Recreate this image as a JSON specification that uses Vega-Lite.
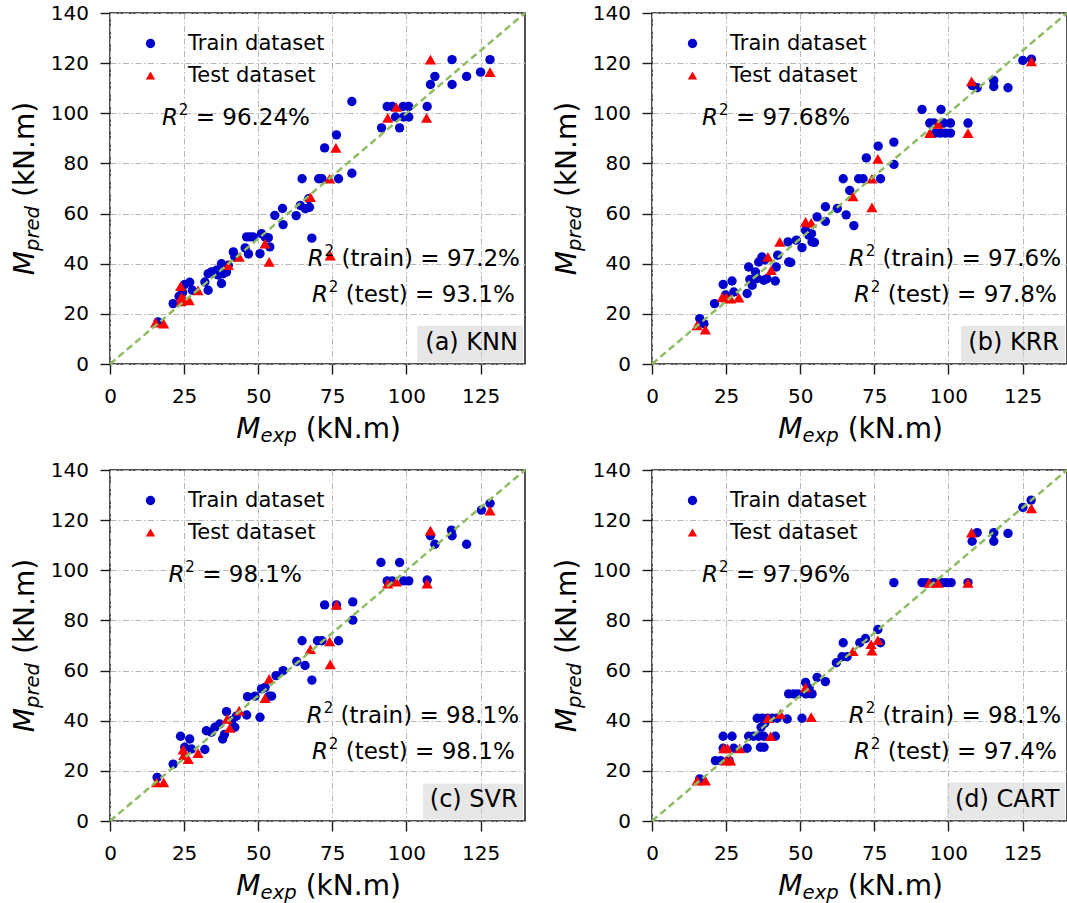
{
"$schema": "https://vega.github.io/schema/vega-lite/v6.json",
"padding": {"left": 11, "top": 2, "right": 0, "bottom": 0},
"config": {
  "font": "DejaVu Sans",
  "view": {"stroke": "#1a1a1a", "strokeWidth": 1.5},
  "axis": {"domain": false, "labelFont": "DejaVu Sans", "labelFontSize": 20, "labelColor": "#000000", "tickColor": "#1a1a1a", "tickWidth": 1.4, "gridColor": "#b8b8b8", "gridDash": [6, 2.5, 1.5, 2.5], "gridWidth": 1, "labelOverlap": false, "labelFlush": false},
  "legend": {"orient": "top-left", "offset": 10, "padding": 10, "labelFont": "DejaVu Sans", "labelFontSize": 21, "labelColor": "#000000", "symbolSize": 88, "symbolOffset": 10, "labelOffset": 27, "rowPadding": 10, "symbolStrokeWidth": 0},
  "text": {"font": "DejaVu Sans", "color": "#000000"}
},
"datasets": {
"knn": [
{"M_exp":16.2,"M_pred":16.8,"set":"Train dataset"},{"M_exp":21.3,"M_pred":24.1,"set":"Train dataset"},{"M_exp":23.3,"M_pred":27.0,"set":"Train dataset"},{"M_exp":25.2,"M_pred":31.7,"set":"Train dataset"},{"M_exp":26.9,"M_pred":32.6,"set":"Train dataset"},{"M_exp":24.5,"M_pred":28.5,"set":"Train dataset"},{"M_exp":27.8,"M_pred":29.4,"set":"Train dataset"},{"M_exp":32.0,"M_pred":32.7,"set":"Train dataset"},{"M_exp":33.1,"M_pred":36.0,"set":"Train dataset"},{"M_exp":33.1,"M_pred":29.4,"set":"Train dataset"},{"M_exp":34.2,"M_pred":36.7,"set":"Train dataset"},{"M_exp":35.9,"M_pred":37.4,"set":"Train dataset"},{"M_exp":36.5,"M_pred":35.5,"set":"Train dataset"},{"M_exp":37.6,"M_pred":40.0,"set":"Train dataset"},{"M_exp":38.2,"M_pred":36.0,"set":"Train dataset"},{"M_exp":37.6,"M_pred":32.1,"set":"Train dataset"},{"M_exp":39.3,"M_pred":36.7,"set":"Train dataset"},{"M_exp":39.9,"M_pred":39.4,"set":"Train dataset"},{"M_exp":41.6,"M_pred":44.7,"set":"Train dataset"},{"M_exp":42.1,"M_pred":42.7,"set":"Train dataset"},{"M_exp":45.6,"M_pred":46.3,"set":"Train dataset"},{"M_exp":46.7,"M_pred":43.9,"set":"Train dataset"},{"M_exp":46.1,"M_pred":50.7,"set":"Train dataset"},{"M_exp":47.2,"M_pred":50.7,"set":"Train dataset"},{"M_exp":48.3,"M_pred":50.7,"set":"Train dataset"},{"M_exp":50.6,"M_pred":44.0,"set":"Train dataset"},{"M_exp":51.1,"M_pred":52.0,"set":"Train dataset"},{"M_exp":52.3,"M_pred":50.7,"set":"Train dataset"},{"M_exp":53.4,"M_pred":50.4,"set":"Train dataset"},{"M_exp":53.9,"M_pred":46.7,"set":"Train dataset"},{"M_exp":55.6,"M_pred":59.3,"set":"Train dataset"},{"M_exp":58.2,"M_pred":62.0,"set":"Train dataset"},{"M_exp":58.4,"M_pred":55.6,"set":"Train dataset"},{"M_exp":62.8,"M_pred":59.2,"set":"Train dataset"},{"M_exp":64.2,"M_pred":63.2,"set":"Train dataset"},{"M_exp":65.9,"M_pred":61.9,"set":"Train dataset"},{"M_exp":67.3,"M_pred":62.5,"set":"Train dataset"},{"M_exp":68.1,"M_pred":50.2,"set":"Train dataset"},{"M_exp":67.0,"M_pred":65.9,"set":"Train dataset"},{"M_exp":64.8,"M_pred":73.9,"set":"Train dataset"},{"M_exp":70.4,"M_pred":73.9,"set":"Train dataset"},{"M_exp":71.5,"M_pred":73.9,"set":"Train dataset"},{"M_exp":77.1,"M_pred":73.9,"set":"Train dataset"},{"M_exp":81.6,"M_pred":76.1,"set":"Train dataset"},{"M_exp":72.4,"M_pred":86.2,"set":"Train dataset"},{"M_exp":76.4,"M_pred":91.4,"set":"Train dataset"},{"M_exp":81.6,"M_pred":104.7,"set":"Train dataset"},{"M_exp":91.6,"M_pred":94.2,"set":"Train dataset"},{"M_exp":93.5,"M_pred":102.7,"set":"Train dataset"},{"M_exp":95.2,"M_pred":102.7,"set":"Train dataset"},{"M_exp":96.3,"M_pred":98.5,"set":"Train dataset"},{"M_exp":97.7,"M_pred":94.2,"set":"Train dataset"},{"M_exp":98.9,"M_pred":102.7,"set":"Train dataset"},{"M_exp":100.8,"M_pred":102.7,"set":"Train dataset"},{"M_exp":99.1,"M_pred":98.5,"set":"Train dataset"},{"M_exp":100.8,"M_pred":98.5,"set":"Train dataset"},{"M_exp":107.0,"M_pred":102.7,"set":"Train dataset"},{"M_exp":108.1,"M_pred":111.5,"set":"Train dataset"},{"M_exp":109.6,"M_pred":114.7,"set":"Train dataset"},{"M_exp":115.4,"M_pred":121.4,"set":"Train dataset"},{"M_exp":115.4,"M_pred":111.5,"set":"Train dataset"},{"M_exp":120.3,"M_pred":114.7,"set":"Train dataset"},{"M_exp":125.0,"M_pred":116.4,"set":"Train dataset"},{"M_exp":128.2,"M_pred":121.4,"set":"Train dataset"},
{"M_exp":15.4,"M_pred":16.5,"set":"Test dataset"},{"M_exp":18.1,"M_pred":16.1,"set":"Test dataset"},{"M_exp":23.8,"M_pred":31.0,"set":"Test dataset"},{"M_exp":24.1,"M_pred":26.7,"set":"Test dataset"},{"M_exp":25.0,"M_pred":26.0,"set":"Test dataset"},{"M_exp":26.7,"M_pred":25.4,"set":"Test dataset"},{"M_exp":24.0,"M_pred":25.0,"set":"Test dataset"},{"M_exp":29.7,"M_pred":29.4,"set":"Test dataset"},{"M_exp":39.9,"M_pred":39.4,"set":"Test dataset"},{"M_exp":43.6,"M_pred":42.7,"set":"Test dataset"},{"M_exp":52.3,"M_pred":48.0,"set":"Test dataset"},{"M_exp":53.7,"M_pred":40.7,"set":"Test dataset"},{"M_exp":67.6,"M_pred":66.5,"set":"Test dataset"},{"M_exp":74.1,"M_pred":73.9,"set":"Test dataset"},{"M_exp":76.2,"M_pred":86.2,"set":"Test dataset"},{"M_exp":74.3,"M_pred":43.2,"set":"Test dataset"},{"M_exp":93.7,"M_pred":98.2,"set":"Test dataset"},{"M_exp":96.6,"M_pred":102.5,"set":"Test dataset"},{"M_exp":106.8,"M_pred":98.2,"set":"Test dataset"},{"M_exp":108.1,"M_pred":121.4,"set":"Test dataset"},{"M_exp":128.2,"M_pred":116.4,"set":"Test dataset"}
],
"krr": [
{"M_exp":16.1,"M_pred":18.1,"set":"Train dataset"},{"M_exp":17.5,"M_pred":16.1,"set":"Train dataset"},{"M_exp":21.1,"M_pred":24.1,"set":"Train dataset"},{"M_exp":24.0,"M_pred":31.7,"set":"Train dataset"},{"M_exp":27.0,"M_pred":33.1,"set":"Train dataset"},{"M_exp":24.8,"M_pred":27.5,"set":"Train dataset"},{"M_exp":27.6,"M_pred":28.7,"set":"Train dataset"},{"M_exp":32.1,"M_pred":28.1,"set":"Train dataset"},{"M_exp":33.8,"M_pred":31.4,"set":"Train dataset"},{"M_exp":33.0,"M_pred":33.7,"set":"Train dataset"},{"M_exp":32.6,"M_pred":38.7,"set":"Train dataset"},{"M_exp":34.9,"M_pred":36.7,"set":"Train dataset"},{"M_exp":36.0,"M_pred":40.7,"set":"Train dataset"},{"M_exp":37.1,"M_pred":42.7,"set":"Train dataset"},{"M_exp":38.0,"M_pred":41.5,"set":"Train dataset"},{"M_exp":35.5,"M_pred":34.1,"set":"Train dataset"},{"M_exp":37.7,"M_pred":33.4,"set":"Train dataset"},{"M_exp":38.8,"M_pred":34.0,"set":"Train dataset"},{"M_exp":41.6,"M_pred":33.1,"set":"Train dataset"},{"M_exp":41.9,"M_pred":38.7,"set":"Train dataset"},{"M_exp":42.4,"M_pred":43.4,"set":"Train dataset"},{"M_exp":46.1,"M_pred":40.7,"set":"Train dataset"},{"M_exp":46.8,"M_pred":40.5,"set":"Train dataset"},{"M_exp":45.9,"M_pred":48.7,"set":"Train dataset"},{"M_exp":48.7,"M_pred":49.4,"set":"Train dataset"},{"M_exp":50.6,"M_pred":46.4,"set":"Train dataset"},{"M_exp":51.8,"M_pred":53.3,"set":"Train dataset"},{"M_exp":52.9,"M_pred":51.4,"set":"Train dataset"},{"M_exp":53.8,"M_pred":52.0,"set":"Train dataset"},{"M_exp":54.0,"M_pred":48.7,"set":"Train dataset"},{"M_exp":54.8,"M_pred":48.5,"set":"Train dataset"},{"M_exp":55.7,"M_pred":58.7,"set":"Train dataset"},{"M_exp":58.5,"M_pred":56.9,"set":"Train dataset"},{"M_exp":58.5,"M_pred":62.7,"set":"Train dataset"},{"M_exp":62.5,"M_pred":62.0,"set":"Train dataset"},{"M_exp":65.5,"M_pred":59.5,"set":"Train dataset"},{"M_exp":68.1,"M_pred":55.2,"set":"Train dataset"},{"M_exp":66.7,"M_pred":69.2,"set":"Train dataset"},{"M_exp":64.5,"M_pred":73.9,"set":"Train dataset"},{"M_exp":69.7,"M_pred":73.9,"set":"Train dataset"},{"M_exp":71.2,"M_pred":73.9,"set":"Train dataset"},{"M_exp":77.1,"M_pred":73.9,"set":"Train dataset"},{"M_exp":72.3,"M_pred":82.2,"set":"Train dataset"},{"M_exp":76.3,"M_pred":86.9,"set":"Train dataset"},{"M_exp":81.6,"M_pred":88.5,"set":"Train dataset"},{"M_exp":81.6,"M_pred":79.6,"set":"Train dataset"},{"M_exp":91.1,"M_pred":101.5,"set":"Train dataset"},{"M_exp":97.5,"M_pred":101.5,"set":"Train dataset"},{"M_exp":93.7,"M_pred":96.1,"set":"Train dataset"},{"M_exp":95.1,"M_pred":96.1,"set":"Train dataset"},{"M_exp":98.4,"M_pred":96.1,"set":"Train dataset"},{"M_exp":100.7,"M_pred":96.1,"set":"Train dataset"},{"M_exp":95.6,"M_pred":92.1,"set":"Train dataset"},{"M_exp":97.3,"M_pred":92.1,"set":"Train dataset"},{"M_exp":99.0,"M_pred":92.1,"set":"Train dataset"},{"M_exp":100.7,"M_pred":92.1,"set":"Train dataset"},{"M_exp":106.6,"M_pred":96.1,"set":"Train dataset"},{"M_exp":108.0,"M_pred":111.1,"set":"Train dataset"},{"M_exp":109.7,"M_pred":110.2,"set":"Train dataset"},{"M_exp":115.3,"M_pred":113.1,"set":"Train dataset"},{"M_exp":115.3,"M_pred":110.7,"set":"Train dataset"},{"M_exp":120.1,"M_pred":110.2,"set":"Train dataset"},{"M_exp":125.1,"M_pred":121.1,"set":"Train dataset"},{"M_exp":128.0,"M_pred":121.6,"set":"Train dataset"},
{"M_exp":15.2,"M_pred":15.4,"set":"Test dataset"},{"M_exp":18.0,"M_pred":13.7,"set":"Test dataset"},{"M_exp":23.7,"M_pred":26.7,"set":"Test dataset"},{"M_exp":25.1,"M_pred":26.5,"set":"Test dataset"},{"M_exp":26.5,"M_pred":26.1,"set":"Test dataset"},{"M_exp":29.3,"M_pred":26.5,"set":"Test dataset"},{"M_exp":39.1,"M_pred":42.7,"set":"Test dataset"},{"M_exp":40.2,"M_pred":37.4,"set":"Test dataset"},{"M_exp":43.1,"M_pred":48.7,"set":"Test dataset"},{"M_exp":51.8,"M_pred":56.7,"set":"Test dataset"},{"M_exp":53.7,"M_pred":56.3,"set":"Test dataset"},{"M_exp":67.8,"M_pred":66.8,"set":"Test dataset"},{"M_exp":74.2,"M_pred":73.9,"set":"Test dataset"},{"M_exp":76.2,"M_pred":81.8,"set":"Test dataset"},{"M_exp":74.2,"M_pred":62.5,"set":"Test dataset"},{"M_exp":93.7,"M_pred":92.1,"set":"Test dataset"},{"M_exp":96.5,"M_pred":95.8,"set":"Test dataset"},{"M_exp":106.6,"M_pred":92.1,"set":"Test dataset"},{"M_exp":107.8,"M_pred":112.7,"set":"Test dataset"},{"M_exp":128.0,"M_pred":120.7,"set":"Test dataset"}
],
"svr": [
{"M_exp":15.9,"M_pred":17.4,"set":"Train dataset"},{"M_exp":21.3,"M_pred":22.7,"set":"Train dataset"},{"M_exp":23.8,"M_pred":33.8,"set":"Train dataset"},{"M_exp":26.9,"M_pred":32.7,"set":"Train dataset"},{"M_exp":25.2,"M_pred":29.4,"set":"Train dataset"},{"M_exp":27.5,"M_pred":28.7,"set":"Train dataset"},{"M_exp":32.0,"M_pred":28.5,"set":"Train dataset"},{"M_exp":32.5,"M_pred":36.0,"set":"Train dataset"},{"M_exp":34.2,"M_pred":35.4,"set":"Train dataset"},{"M_exp":35.4,"M_pred":37.4,"set":"Train dataset"},{"M_exp":37.0,"M_pred":38.7,"set":"Train dataset"},{"M_exp":38.0,"M_pred":32.7,"set":"Train dataset"},{"M_exp":38.6,"M_pred":34.5,"set":"Train dataset"},{"M_exp":39.3,"M_pred":43.6,"set":"Train dataset"},{"M_exp":41.0,"M_pred":40.0,"set":"Train dataset"},{"M_exp":42.1,"M_pred":37.4,"set":"Train dataset"},{"M_exp":42.6,"M_pred":41.8,"set":"Train dataset"},{"M_exp":46.1,"M_pred":42.3,"set":"Train dataset"},{"M_exp":46.4,"M_pred":49.6,"set":"Train dataset"},{"M_exp":48.9,"M_pred":49.8,"set":"Train dataset"},{"M_exp":50.6,"M_pred":41.4,"set":"Train dataset"},{"M_exp":51.1,"M_pred":52.7,"set":"Train dataset"},{"M_exp":52.3,"M_pred":53.3,"set":"Train dataset"},{"M_exp":53.7,"M_pred":49.8,"set":"Train dataset"},{"M_exp":54.5,"M_pred":49.8,"set":"Train dataset"},{"M_exp":56.0,"M_pred":58.0,"set":"Train dataset"},{"M_exp":58.4,"M_pred":60.0,"set":"Train dataset"},{"M_exp":63.0,"M_pred":63.6,"set":"Train dataset"},{"M_exp":65.8,"M_pred":62.0,"set":"Train dataset"},{"M_exp":68.1,"M_pred":56.2,"set":"Train dataset"},{"M_exp":64.8,"M_pred":71.9,"set":"Train dataset"},{"M_exp":70.0,"M_pred":71.9,"set":"Train dataset"},{"M_exp":71.5,"M_pred":71.9,"set":"Train dataset"},{"M_exp":77.1,"M_pred":71.9,"set":"Train dataset"},{"M_exp":72.4,"M_pred":86.2,"set":"Train dataset"},{"M_exp":76.4,"M_pred":86.2,"set":"Train dataset"},{"M_exp":81.9,"M_pred":87.4,"set":"Train dataset"},{"M_exp":81.9,"M_pred":80.1,"set":"Train dataset"},{"M_exp":91.4,"M_pred":103.1,"set":"Train dataset"},{"M_exp":97.7,"M_pred":103.1,"set":"Train dataset"},{"M_exp":93.5,"M_pred":95.8,"set":"Train dataset"},{"M_exp":95.2,"M_pred":95.8,"set":"Train dataset"},{"M_exp":99.1,"M_pred":95.8,"set":"Train dataset"},{"M_exp":100.8,"M_pred":95.8,"set":"Train dataset"},{"M_exp":107.0,"M_pred":96.1,"set":"Train dataset"},{"M_exp":108.1,"M_pred":113.8,"set":"Train dataset"},{"M_exp":109.6,"M_pred":110.4,"set":"Train dataset"},{"M_exp":115.2,"M_pred":116.0,"set":"Train dataset"},{"M_exp":115.4,"M_pred":113.8,"set":"Train dataset"},{"M_exp":120.3,"M_pred":110.4,"set":"Train dataset"},{"M_exp":125.3,"M_pred":124.0,"set":"Train dataset"},{"M_exp":128.2,"M_pred":126.7,"set":"Train dataset"},
{"M_exp":15.7,"M_pred":15.4,"set":"Test dataset"},{"M_exp":18.1,"M_pred":15.4,"set":"Test dataset"},{"M_exp":24.7,"M_pred":28.5,"set":"Test dataset"},{"M_exp":24.9,"M_pred":26.3,"set":"Test dataset"},{"M_exp":26.4,"M_pred":24.7,"set":"Test dataset"},{"M_exp":29.7,"M_pred":27.1,"set":"Test dataset"},{"M_exp":39.5,"M_pred":40.7,"set":"Test dataset"},{"M_exp":40.4,"M_pred":37.1,"set":"Test dataset"},{"M_exp":43.6,"M_pred":44.0,"set":"Test dataset"},{"M_exp":52.3,"M_pred":49.0,"set":"Test dataset"},{"M_exp":53.7,"M_pred":56.7,"set":"Test dataset"},{"M_exp":67.6,"M_pred":68.5,"set":"Test dataset"},{"M_exp":74.1,"M_pred":71.6,"set":"Test dataset"},{"M_exp":76.4,"M_pred":86.2,"set":"Test dataset"},{"M_exp":74.3,"M_pred":62.5,"set":"Test dataset"},{"M_exp":93.7,"M_pred":94.7,"set":"Test dataset"},{"M_exp":96.6,"M_pred":95.5,"set":"Test dataset"},{"M_exp":107.0,"M_pred":94.7,"set":"Test dataset"},{"M_exp":108.1,"M_pred":115.8,"set":"Test dataset"},{"M_exp":128.2,"M_pred":123.8,"set":"Test dataset"}
],
"cart": [
{"M_exp":16.1,"M_pred":16.8,"set":"Train dataset"},{"M_exp":21.4,"M_pred":24.1,"set":"Train dataset"},{"M_exp":23.1,"M_pred":24.1,"set":"Train dataset"},{"M_exp":24.0,"M_pred":33.8,"set":"Train dataset"},{"M_exp":27.0,"M_pred":33.8,"set":"Train dataset"},{"M_exp":24.0,"M_pred":29.0,"set":"Train dataset"},{"M_exp":27.6,"M_pred":29.0,"set":"Train dataset"},{"M_exp":26.0,"M_pred":24.1,"set":"Train dataset"},{"M_exp":32.1,"M_pred":29.0,"set":"Train dataset"},{"M_exp":36.6,"M_pred":29.4,"set":"Train dataset"},{"M_exp":37.8,"M_pred":29.4,"set":"Train dataset"},{"M_exp":32.6,"M_pred":33.8,"set":"Train dataset"},{"M_exp":34.3,"M_pred":33.8,"set":"Train dataset"},{"M_exp":36.0,"M_pred":33.8,"set":"Train dataset"},{"M_exp":37.7,"M_pred":33.8,"set":"Train dataset"},{"M_exp":41.6,"M_pred":33.8,"set":"Train dataset"},{"M_exp":35.5,"M_pred":41.0,"set":"Train dataset"},{"M_exp":37.2,"M_pred":41.0,"set":"Train dataset"},{"M_exp":38.9,"M_pred":41.0,"set":"Train dataset"},{"M_exp":40.6,"M_pred":41.0,"set":"Train dataset"},{"M_exp":42.2,"M_pred":41.0,"set":"Train dataset"},{"M_exp":45.6,"M_pred":40.7,"set":"Train dataset"},{"M_exp":50.6,"M_pred":41.0,"set":"Train dataset"},{"M_exp":36.8,"M_pred":37.4,"set":"Train dataset"},{"M_exp":38.0,"M_pred":39.0,"set":"Train dataset"},{"M_exp":46.1,"M_pred":50.7,"set":"Train dataset"},{"M_exp":47.8,"M_pred":50.7,"set":"Train dataset"},{"M_exp":49.2,"M_pred":50.7,"set":"Train dataset"},{"M_exp":52.0,"M_pred":50.7,"set":"Train dataset"},{"M_exp":54.0,"M_pred":50.7,"set":"Train dataset"},{"M_exp":51.8,"M_pred":55.3,"set":"Train dataset"},{"M_exp":53.0,"M_pred":53.0,"set":"Train dataset"},{"M_exp":55.7,"M_pred":57.3,"set":"Train dataset"},{"M_exp":58.5,"M_pred":55.6,"set":"Train dataset"},{"M_exp":62.2,"M_pred":63.1,"set":"Train dataset"},{"M_exp":64.1,"M_pred":65.5,"set":"Train dataset"},{"M_exp":65.8,"M_pred":65.5,"set":"Train dataset"},{"M_exp":64.5,"M_pred":71.1,"set":"Train dataset"},{"M_exp":70.1,"M_pred":71.1,"set":"Train dataset"},{"M_exp":72.0,"M_pred":72.8,"set":"Train dataset"},{"M_exp":76.2,"M_pred":76.4,"set":"Train dataset"},{"M_exp":77.1,"M_pred":71.1,"set":"Train dataset"},{"M_exp":81.6,"M_pred":95.1,"set":"Train dataset"},{"M_exp":91.1,"M_pred":95.1,"set":"Train dataset"},{"M_exp":92.6,"M_pred":95.1,"set":"Train dataset"},{"M_exp":95.1,"M_pred":95.1,"set":"Train dataset"},{"M_exp":97.9,"M_pred":95.1,"set":"Train dataset"},{"M_exp":99.3,"M_pred":95.1,"set":"Train dataset"},{"M_exp":100.9,"M_pred":95.1,"set":"Train dataset"},{"M_exp":106.6,"M_pred":95.1,"set":"Train dataset"},{"M_exp":108.0,"M_pred":111.6,"set":"Train dataset"},{"M_exp":109.7,"M_pred":115.0,"set":"Train dataset"},{"M_exp":115.3,"M_pred":115.0,"set":"Train dataset"},{"M_exp":115.3,"M_pred":111.6,"set":"Train dataset"},{"M_exp":120.1,"M_pred":114.7,"set":"Train dataset"},{"M_exp":125.1,"M_pred":125.1,"set":"Train dataset"},{"M_exp":127.9,"M_pred":128.0,"set":"Train dataset"},
{"M_exp":15.2,"M_pred":16.1,"set":"Test dataset"},{"M_exp":18.0,"M_pred":16.1,"set":"Test dataset"},{"M_exp":24.2,"M_pred":29.0,"set":"Test dataset"},{"M_exp":25.5,"M_pred":29.0,"set":"Test dataset"},{"M_exp":26.5,"M_pred":24.1,"set":"Test dataset"},{"M_exp":25.0,"M_pred":24.1,"set":"Test dataset"},{"M_exp":29.6,"M_pred":29.0,"set":"Test dataset"},{"M_exp":40.0,"M_pred":33.8,"set":"Test dataset"},{"M_exp":39.1,"M_pred":41.0,"set":"Test dataset"},{"M_exp":43.3,"M_pred":42.7,"set":"Test dataset"},{"M_exp":53.7,"M_pred":41.4,"set":"Test dataset"},{"M_exp":51.8,"M_pred":53.3,"set":"Test dataset"},{"M_exp":67.8,"M_pred":67.7,"set":"Test dataset"},{"M_exp":73.9,"M_pred":70.5,"set":"Test dataset"},{"M_exp":74.2,"M_pred":67.9,"set":"Test dataset"},{"M_exp":76.2,"M_pred":72.1,"set":"Test dataset"},{"M_exp":93.5,"M_pred":95.0,"set":"Test dataset"},{"M_exp":96.5,"M_pred":95.0,"set":"Test dataset"},{"M_exp":106.6,"M_pred":95.0,"set":"Test dataset"},{"M_exp":107.8,"M_pred":115.0,"set":"Test dataset"},{"M_exp":128.0,"M_pred":124.7,"set":"Test dataset"}
]
},
"columns": 2,
"spacing": {"row": 106, "column": 127},
"bounds": "flush",
"resolve": {"scale": {"color": "independent", "shape": "independent"}, "legend": {"color": "independent", "shape": "independent"}},
"concat": [
{"width": 415, "height": 351, "layer": [
 {"data": {"name": "knn"}, "transform": [{"filter": "datum.set === 'Train dataset'"}], "mark": {"type": "point", "filled": true, "opacity": 1, "size": 88, "strokeWidth": 0},
  "encoding": {
   "x": {"field": "M_exp", "type": "quantitative", "scale": {"domain": [0, 140], "nice": false}, "axis": {"title": null, "values": [0,6.25,12.5,18.75,25,31.25,37.5,43.75,50,56.25,62.5,68.75,75,81.25,87.5,93.75,100,106.25,112.5,118.75,125,131.25,137.5], "labelExpr": "datum.value % 25 === 0 ? datum.label : ''", "tickSize": {"condition": {"test": "datum.value % 25 === 0", "value": 10}, "value": 5}, "gridOpacity": {"condition": {"test": "datum.value % 25 === 0", "value": 1}, "value": 0}, "labelPadding": 12}},
   "y": {"field": "M_pred", "type": "quantitative", "scale": {"domain": [0, 140], "nice": false}, "axis": {"title": null, "values": [0,5,10,15,20,25,30,35,40,45,50,55,60,65,70,75,80,85,90,95,100,105,110,115,120,125,130,135,140], "labelExpr": "datum.value % 20 === 0 ? datum.label : ''", "tickSize": {"condition": {"test": "datum.value % 20 === 0", "value": 10}, "value": 5}, "gridOpacity": {"condition": {"test": "datum.value % 20 === 0", "value": 1}, "value": 0}, "labelPadding": 11.5}},
   "color": {"field": "set", "type": "nominal", "scale": {"domain": ["Train dataset", "Test dataset"], "range": ["#0000cd", "#ff0000"]}, "legend": {"title": null}},
   "shape": {"field": "set", "type": "nominal", "scale": {"domain": ["Train dataset", "Test dataset"], "range": ["circle", "triangle-up"]}, "legend": {"title": null}}}},
 {"data": {"name": "knn"}, "transform": [{"filter": "datum.set === 'Test dataset'"}], "mark": {"type": "point", "filled": true, "opacity": 1, "size": 125, "strokeWidth": 0},
  "encoding": {"x": {"field": "M_exp", "type": "quantitative", "title": null}, "y": {"field": "M_pred", "type": "quantitative", "title": null}, "color": {"field": "set", "type": "nominal"}, "shape": {"field": "set", "type": "nominal"}}},
 {"data": {"values": [{}]}, "mark": {"type": "rect", "fill": "#cfcfcf", "opacity": 0.5}, "encoding": {"x": {"datum": 103.7}, "x2": {"datum": 139.4}, "y": {"datum": 0.6}, "y2": {"datum": 15.3}}},
 {"data": {"values": [{}]}, "mark": {"type": "rule", "color": "#8fbc63", "strokeWidth": 2.5, "strokeDash": [7, 4]}, "encoding": {"x": {"datum": 0}, "y": {"datum": 0}, "x2": {"datum": 140}, "y2": {"datum": 140}}},
 {"data": {"values": [{}]}, "mark": {"type": "text", "text": "(a) KNN", "fontSize": 24, "align": "center", "baseline": "middle"}, "encoding": {"x": {"datum": 122}, "y": {"datum": 8.4}}},
 {"data": {"values": [{}]}, "mark": {"type": "text", "text": "R", "fontStyle": "italic", "fontSize": 23, "align": "right", "baseline": "alphabetic"}, "encoding": {"x": {"datum": 22.9}, "y": {"datum": 95.4}}},
 {"data": {"values": [{}]}, "mark": {"type": "text", "text": "2", "fontSize": 15, "align": "left", "baseline": "alphabetic"}, "encoding": {"x": {"datum": 23.2}, "y": {"datum": 99.4}}},
 {"data": {"values": [{}]}, "mark": {"type": "text", "text": "= 96.24%", "fontSize": 23, "align": "left", "baseline": "alphabetic"}, "encoding": {"x": {"datum": 28.9}, "y": {"datum": 95.4}}},
 {"data": {"values": [{}]}, "mark": {"type": "text", "text": "R", "fontStyle": "italic", "fontSize": 23, "align": "right", "baseline": "alphabetic"}, "encoding": {"x": {"datum": 72.1}, "y": {"datum": 38.9}}},
 {"data": {"values": [{}]}, "mark": {"type": "text", "text": "2", "fontSize": 15, "align": "left", "baseline": "alphabetic"}, "encoding": {"x": {"datum": 72.4}, "y": {"datum": 42.9}}},
 {"data": {"values": [{}]}, "mark": {"type": "text", "text": "(train) = 97.2%", "fontSize": 23, "align": "left", "baseline": "alphabetic"}, "encoding": {"x": {"datum": 78.1}, "y": {"datum": 38.9}}},
 {"data": {"values": [{}]}, "mark": {"type": "text", "text": "R", "fontStyle": "italic", "fontSize": 23, "align": "right", "baseline": "alphabetic"}, "encoding": {"x": {"datum": 73.5}, "y": {"datum": 24.8}}},
 {"data": {"values": [{}]}, "mark": {"type": "text", "text": "2", "fontSize": 15, "align": "left", "baseline": "alphabetic"}, "encoding": {"x": {"datum": 73.8}, "y": {"datum": 28.8}}},
 {"data": {"values": [{}]}, "mark": {"type": "text", "text": "(test) = 93.1%", "fontSize": 23, "align": "left", "baseline": "alphabetic"}, "encoding": {"x": {"datum": 79.5}, "y": {"datum": 24.8}}},
 {"data": {"values": [{}]}, "mark": {"type": "text", "text": "M", "fontStyle": "italic", "fontSize": 28, "align": "left", "baseline": "alphabetic"}, "encoding": {"x": {"datum": 42.6}, "y": {"datum": -29.7}}},
 {"data": {"values": [{}]}, "mark": {"type": "text", "text": "exp", "fontStyle": "italic", "fontSize": 19.6, "align": "left", "baseline": "alphabetic"}, "encoding": {"x": {"datum": 50.8}, "y": {"datum": -31.3}}},
 {"data": {"values": [{}]}, "mark": {"type": "text", "text": "(kN.m)", "fontSize": 28, "align": "left", "baseline": "alphabetic"}, "encoding": {"x": {"datum": 66.0}, "y": {"datum": -29.7}}},
 {"data": {"values": [{}]}, "mark": {"type": "text", "text": "M", "fontStyle": "italic", "fontSize": 28, "align": "left", "baseline": "alphabetic", "angle": 270}, "encoding": {"x": {"datum": -25.5}, "y": {"datum": 35.4}}},
 {"data": {"values": [{}]}, "mark": {"type": "text", "text": "pred", "fontStyle": "italic", "fontSize": 19.6, "align": "left", "baseline": "alphabetic", "angle": 270}, "encoding": {"x": {"datum": -24.1}, "y": {"datum": 45.05}}},
 {"data": {"values": [{}]}, "mark": {"type": "text", "text": "(kN.m)", "fontSize": 28, "align": "left", "baseline": "alphabetic", "angle": 270}, "encoding": {"x": {"datum": -25.5}, "y": {"datum": 66.6}}}
]},
{"width": 415, "height": 351, "layer": [
 {"data": {"name": "krr"}, "transform": [{"filter": "datum.set === 'Train dataset'"}], "mark": {"type": "point", "filled": true, "opacity": 1, "size": 88, "strokeWidth": 0},
  "encoding": {
   "x": {"field": "M_exp", "type": "quantitative", "scale": {"domain": [0, 140], "nice": false}, "axis": {"title": null, "values": [0,6.25,12.5,18.75,25,31.25,37.5,43.75,50,56.25,62.5,68.75,75,81.25,87.5,93.75,100,106.25,112.5,118.75,125,131.25,137.5], "labelExpr": "datum.value % 25 === 0 ? datum.label : ''", "tickSize": {"condition": {"test": "datum.value % 25 === 0", "value": 10}, "value": 5}, "gridOpacity": {"condition": {"test": "datum.value % 25 === 0", "value": 1}, "value": 0}, "labelPadding": 12}},
   "y": {"field": "M_pred", "type": "quantitative", "scale": {"domain": [0, 140], "nice": false}, "axis": {"title": null, "values": [0,5,10,15,20,25,30,35,40,45,50,55,60,65,70,75,80,85,90,95,100,105,110,115,120,125,130,135,140], "labelExpr": "datum.value % 20 === 0 ? datum.label : ''", "tickSize": {"condition": {"test": "datum.value % 20 === 0", "value": 10}, "value": 5}, "gridOpacity": {"condition": {"test": "datum.value % 20 === 0", "value": 1}, "value": 0}, "labelPadding": 11.5}},
   "color": {"field": "set", "type": "nominal", "scale": {"domain": ["Train dataset", "Test dataset"], "range": ["#0000cd", "#ff0000"]}, "legend": {"title": null}},
   "shape": {"field": "set", "type": "nominal", "scale": {"domain": ["Train dataset", "Test dataset"], "range": ["circle", "triangle-up"]}, "legend": {"title": null}}}},
 {"data": {"name": "krr"}, "transform": [{"filter": "datum.set === 'Test dataset'"}], "mark": {"type": "point", "filled": true, "opacity": 1, "size": 125, "strokeWidth": 0},
  "encoding": {"x": {"field": "M_exp", "type": "quantitative", "title": null}, "y": {"field": "M_pred", "type": "quantitative", "title": null}, "color": {"field": "set", "type": "nominal"}, "shape": {"field": "set", "type": "nominal"}}},
 {"data": {"values": [{}]}, "mark": {"type": "rect", "fill": "#cfcfcf", "opacity": 0.5}, "encoding": {"x": {"datum": 104.2}, "x2": {"datum": 139.4}, "y": {"datum": 0.6}, "y2": {"datum": 15.3}}},
 {"data": {"values": [{}]}, "mark": {"type": "rule", "color": "#8fbc63", "strokeWidth": 2.5, "strokeDash": [7, 4]}, "encoding": {"x": {"datum": 0}, "y": {"datum": 0}, "x2": {"datum": 140}, "y2": {"datum": 140}}},
 {"data": {"values": [{}]}, "mark": {"type": "text", "text": "(b) KRR", "fontSize": 24, "align": "center", "baseline": "middle"}, "encoding": {"x": {"datum": 122}, "y": {"datum": 8.4}}},
 {"data": {"values": [{}]}, "mark": {"type": "text", "text": "R", "fontStyle": "italic", "fontSize": 23, "align": "right", "baseline": "alphabetic"}, "encoding": {"x": {"datum": 22.3}, "y": {"datum": 95.4}}},
 {"data": {"values": [{}]}, "mark": {"type": "text", "text": "2", "fontSize": 15, "align": "left", "baseline": "alphabetic"}, "encoding": {"x": {"datum": 22.6}, "y": {"datum": 99.4}}},
 {"data": {"values": [{}]}, "mark": {"type": "text", "text": "= 97.68%", "fontSize": 23, "align": "left", "baseline": "alphabetic"}, "encoding": {"x": {"datum": 28.3}, "y": {"datum": 95.4}}},
 {"data": {"values": [{}]}, "mark": {"type": "text", "text": "R", "fontStyle": "italic", "fontSize": 23, "align": "right", "baseline": "alphabetic"}, "encoding": {"x": {"datum": 71.8}, "y": {"datum": 38.9}}},
 {"data": {"values": [{}]}, "mark": {"type": "text", "text": "2", "fontSize": 15, "align": "left", "baseline": "alphabetic"}, "encoding": {"x": {"datum": 72.1}, "y": {"datum": 42.9}}},
 {"data": {"values": [{}]}, "mark": {"type": "text", "text": "(train) = 97.6%", "fontSize": 23, "align": "left", "baseline": "alphabetic"}, "encoding": {"x": {"datum": 77.8}, "y": {"datum": 38.9}}},
 {"data": {"values": [{}]}, "mark": {"type": "text", "text": "R", "fontStyle": "italic", "fontSize": 23, "align": "right", "baseline": "alphabetic"}, "encoding": {"x": {"datum": 73.5}, "y": {"datum": 24.8}}},
 {"data": {"values": [{}]}, "mark": {"type": "text", "text": "2", "fontSize": 15, "align": "left", "baseline": "alphabetic"}, "encoding": {"x": {"datum": 73.8}, "y": {"datum": 28.8}}},
 {"data": {"values": [{}]}, "mark": {"type": "text", "text": "(test) = 97.8%", "fontSize": 23, "align": "left", "baseline": "alphabetic"}, "encoding": {"x": {"datum": 79.5}, "y": {"datum": 24.8}}},
 {"data": {"values": [{}]}, "mark": {"type": "text", "text": "M", "fontStyle": "italic", "fontSize": 28, "align": "left", "baseline": "alphabetic"}, "encoding": {"x": {"datum": 42.6}, "y": {"datum": -29.7}}},
 {"data": {"values": [{}]}, "mark": {"type": "text", "text": "exp", "fontStyle": "italic", "fontSize": 19.6, "align": "left", "baseline": "alphabetic"}, "encoding": {"x": {"datum": 50.8}, "y": {"datum": -31.3}}},
 {"data": {"values": [{}]}, "mark": {"type": "text", "text": "(kN.m)", "fontSize": 28, "align": "left", "baseline": "alphabetic"}, "encoding": {"x": {"datum": 66.0}, "y": {"datum": -29.7}}},
 {"data": {"values": [{}]}, "mark": {"type": "text", "text": "M", "fontStyle": "italic", "fontSize": 28, "align": "left", "baseline": "alphabetic", "angle": 270}, "encoding": {"x": {"datum": -25.5}, "y": {"datum": 35.4}}},
 {"data": {"values": [{}]}, "mark": {"type": "text", "text": "pred", "fontStyle": "italic", "fontSize": 19.6, "align": "left", "baseline": "alphabetic", "angle": 270}, "encoding": {"x": {"datum": -24.1}, "y": {"datum": 45.05}}},
 {"data": {"values": [{}]}, "mark": {"type": "text", "text": "(kN.m)", "fontSize": 28, "align": "left", "baseline": "alphabetic", "angle": 270}, "encoding": {"x": {"datum": -25.5}, "y": {"datum": 66.6}}}
]},
{"width": 415, "height": 351, "layer": [
 {"data": {"name": "svr"}, "transform": [{"filter": "datum.set === 'Train dataset'"}], "mark": {"type": "point", "filled": true, "opacity": 1, "size": 88, "strokeWidth": 0},
  "encoding": {
   "x": {"field": "M_exp", "type": "quantitative", "scale": {"domain": [0, 140], "nice": false}, "axis": {"title": null, "values": [0,6.25,12.5,18.75,25,31.25,37.5,43.75,50,56.25,62.5,68.75,75,81.25,87.5,93.75,100,106.25,112.5,118.75,125,131.25,137.5], "labelExpr": "datum.value % 25 === 0 ? datum.label : ''", "tickSize": {"condition": {"test": "datum.value % 25 === 0", "value": 10}, "value": 5}, "gridOpacity": {"condition": {"test": "datum.value % 25 === 0", "value": 1}, "value": 0}, "labelPadding": 12}},
   "y": {"field": "M_pred", "type": "quantitative", "scale": {"domain": [0, 140], "nice": false}, "axis": {"title": null, "values": [0,5,10,15,20,25,30,35,40,45,50,55,60,65,70,75,80,85,90,95,100,105,110,115,120,125,130,135,140], "labelExpr": "datum.value % 20 === 0 ? datum.label : ''", "tickSize": {"condition": {"test": "datum.value % 20 === 0", "value": 10}, "value": 5}, "gridOpacity": {"condition": {"test": "datum.value % 20 === 0", "value": 1}, "value": 0}, "labelPadding": 11.5}},
   "color": {"field": "set", "type": "nominal", "scale": {"domain": ["Train dataset", "Test dataset"], "range": ["#0000cd", "#ff0000"]}, "legend": {"title": null}},
   "shape": {"field": "set", "type": "nominal", "scale": {"domain": ["Train dataset", "Test dataset"], "range": ["circle", "triangle-up"]}, "legend": {"title": null}}}},
 {"data": {"name": "svr"}, "transform": [{"filter": "datum.set === 'Test dataset'"}], "mark": {"type": "point", "filled": true, "opacity": 1, "size": 125, "strokeWidth": 0},
  "encoding": {"x": {"field": "M_exp", "type": "quantitative", "title": null}, "y": {"field": "M_pred", "type": "quantitative", "title": null}, "color": {"field": "set", "type": "nominal"}, "shape": {"field": "set", "type": "nominal"}}},
 {"data": {"values": [{}]}, "mark": {"type": "rect", "fill": "#cfcfcf", "opacity": 0.5}, "encoding": {"x": {"datum": 105.6}, "x2": {"datum": 139.4}, "y": {"datum": 0.6}, "y2": {"datum": 14.9}}},
 {"data": {"values": [{}]}, "mark": {"type": "rule", "color": "#8fbc63", "strokeWidth": 2.5, "strokeDash": [7, 4]}, "encoding": {"x": {"datum": 0}, "y": {"datum": 0}, "x2": {"datum": 140}, "y2": {"datum": 140}}},
 {"data": {"values": [{}]}, "mark": {"type": "text", "text": "(c) SVR", "fontSize": 24, "align": "center", "baseline": "middle"}, "encoding": {"x": {"datum": 122.7}, "y": {"datum": 8.4}}},
 {"data": {"values": [{}]}, "mark": {"type": "text", "text": "R", "fontStyle": "italic", "fontSize": 23, "align": "right", "baseline": "alphabetic"}, "encoding": {"x": {"datum": 25.1}, "y": {"datum": 95.4}}},
 {"data": {"values": [{}]}, "mark": {"type": "text", "text": "2", "fontSize": 15, "align": "left", "baseline": "alphabetic"}, "encoding": {"x": {"datum": 25.4}, "y": {"datum": 99.4}}},
 {"data": {"values": [{}]}, "mark": {"type": "text", "text": "= 98.1%", "fontSize": 23, "align": "left", "baseline": "alphabetic"}, "encoding": {"x": {"datum": 31.1}, "y": {"datum": 95.4}}},
 {"data": {"values": [{}]}, "mark": {"type": "text", "text": "R", "fontStyle": "italic", "fontSize": 23, "align": "right", "baseline": "alphabetic"}, "encoding": {"x": {"datum": 71.8}, "y": {"datum": 38.9}}},
 {"data": {"values": [{}]}, "mark": {"type": "text", "text": "2", "fontSize": 15, "align": "left", "baseline": "alphabetic"}, "encoding": {"x": {"datum": 72.1}, "y": {"datum": 42.9}}},
 {"data": {"values": [{}]}, "mark": {"type": "text", "text": "(train) = 98.1%", "fontSize": 23, "align": "left", "baseline": "alphabetic"}, "encoding": {"x": {"datum": 77.8}, "y": {"datum": 38.9}}},
 {"data": {"values": [{}]}, "mark": {"type": "text", "text": "R", "fontStyle": "italic", "fontSize": 23, "align": "right", "baseline": "alphabetic"}, "encoding": {"x": {"datum": 73.5}, "y": {"datum": 24.8}}},
 {"data": {"values": [{}]}, "mark": {"type": "text", "text": "2", "fontSize": 15, "align": "left", "baseline": "alphabetic"}, "encoding": {"x": {"datum": 73.8}, "y": {"datum": 28.8}}},
 {"data": {"values": [{}]}, "mark": {"type": "text", "text": "(test) = 98.1%", "fontSize": 23, "align": "left", "baseline": "alphabetic"}, "encoding": {"x": {"datum": 79.5}, "y": {"datum": 24.8}}},
 {"data": {"values": [{}]}, "mark": {"type": "text", "text": "M", "fontStyle": "italic", "fontSize": 28, "align": "left", "baseline": "alphabetic"}, "encoding": {"x": {"datum": 42.6}, "y": {"datum": -29.7}}},
 {"data": {"values": [{}]}, "mark": {"type": "text", "text": "exp", "fontStyle": "italic", "fontSize": 19.6, "align": "left", "baseline": "alphabetic"}, "encoding": {"x": {"datum": 50.8}, "y": {"datum": -31.3}}},
 {"data": {"values": [{}]}, "mark": {"type": "text", "text": "(kN.m)", "fontSize": 28, "align": "left", "baseline": "alphabetic"}, "encoding": {"x": {"datum": 66.0}, "y": {"datum": -29.7}}},
 {"data": {"values": [{}]}, "mark": {"type": "text", "text": "M", "fontStyle": "italic", "fontSize": 28, "align": "left", "baseline": "alphabetic", "angle": 270}, "encoding": {"x": {"datum": -25.5}, "y": {"datum": 35.4}}},
 {"data": {"values": [{}]}, "mark": {"type": "text", "text": "pred", "fontStyle": "italic", "fontSize": 19.6, "align": "left", "baseline": "alphabetic", "angle": 270}, "encoding": {"x": {"datum": -24.1}, "y": {"datum": 45.05}}},
 {"data": {"values": [{}]}, "mark": {"type": "text", "text": "(kN.m)", "fontSize": 28, "align": "left", "baseline": "alphabetic", "angle": 270}, "encoding": {"x": {"datum": -25.5}, "y": {"datum": 66.6}}}
]},
{"width": 415, "height": 351, "layer": [
 {"data": {"name": "cart"}, "transform": [{"filter": "datum.set === 'Train dataset'"}], "mark": {"type": "point", "filled": true, "opacity": 1, "size": 88, "strokeWidth": 0},
  "encoding": {
   "x": {"field": "M_exp", "type": "quantitative", "scale": {"domain": [0, 140], "nice": false}, "axis": {"title": null, "values": [0,6.25,12.5,18.75,25,31.25,37.5,43.75,50,56.25,62.5,68.75,75,81.25,87.5,93.75,100,106.25,112.5,118.75,125,131.25,137.5], "labelExpr": "datum.value % 25 === 0 ? datum.label : ''", "tickSize": {"condition": {"test": "datum.value % 25 === 0", "value": 10}, "value": 5}, "gridOpacity": {"condition": {"test": "datum.value % 25 === 0", "value": 1}, "value": 0}, "labelPadding": 12}},
   "y": {"field": "M_pred", "type": "quantitative", "scale": {"domain": [0, 140], "nice": false}, "axis": {"title": null, "values": [0,5,10,15,20,25,30,35,40,45,50,55,60,65,70,75,80,85,90,95,100,105,110,115,120,125,130,135,140], "labelExpr": "datum.value % 20 === 0 ? datum.label : ''", "tickSize": {"condition": {"test": "datum.value % 20 === 0", "value": 10}, "value": 5}, "gridOpacity": {"condition": {"test": "datum.value % 20 === 0", "value": 1}, "value": 0}, "labelPadding": 11.5}},
   "color": {"field": "set", "type": "nominal", "scale": {"domain": ["Train dataset", "Test dataset"], "range": ["#0000cd", "#ff0000"]}, "legend": {"title": null}},
   "shape": {"field": "set", "type": "nominal", "scale": {"domain": ["Train dataset", "Test dataset"], "range": ["circle", "triangle-up"]}, "legend": {"title": null}}}},
 {"data": {"name": "cart"}, "transform": [{"filter": "datum.set === 'Test dataset'"}], "mark": {"type": "point", "filled": true, "opacity": 1, "size": 125, "strokeWidth": 0},
  "encoding": {"x": {"field": "M_exp", "type": "quantitative", "title": null}, "y": {"field": "M_pred", "type": "quantitative", "title": null}, "color": {"field": "set", "type": "nominal"}, "shape": {"field": "set", "type": "nominal"}}},
 {"data": {"values": [{}]}, "mark": {"type": "rect", "fill": "#cfcfcf", "opacity": 0.5}, "encoding": {"x": {"datum": 99.6}, "x2": {"datum": 139.4}, "y": {"datum": 0.6}, "y2": {"datum": 15.4}}},
 {"data": {"values": [{}]}, "mark": {"type": "rule", "color": "#8fbc63", "strokeWidth": 2.5, "strokeDash": [7, 4]}, "encoding": {"x": {"datum": 0}, "y": {"datum": 0}, "x2": {"datum": 140}, "y2": {"datum": 140}}},
 {"data": {"values": [{}]}, "mark": {"type": "text", "text": "(d) CART", "fontSize": 24, "align": "center", "baseline": "middle"}, "encoding": {"x": {"datum": 119.8}, "y": {"datum": 8.4}}},
 {"data": {"values": [{}]}, "mark": {"type": "text", "text": "R", "fontStyle": "italic", "fontSize": 23, "align": "right", "baseline": "alphabetic"}, "encoding": {"x": {"datum": 22.3}, "y": {"datum": 95.4}}},
 {"data": {"values": [{}]}, "mark": {"type": "text", "text": "2", "fontSize": 15, "align": "left", "baseline": "alphabetic"}, "encoding": {"x": {"datum": 22.6}, "y": {"datum": 99.4}}},
 {"data": {"values": [{}]}, "mark": {"type": "text", "text": "= 97.96%", "fontSize": 23, "align": "left", "baseline": "alphabetic"}, "encoding": {"x": {"datum": 28.3}, "y": {"datum": 95.4}}},
 {"data": {"values": [{}]}, "mark": {"type": "text", "text": "R", "fontStyle": "italic", "fontSize": 23, "align": "right", "baseline": "alphabetic"}, "encoding": {"x": {"datum": 71.8}, "y": {"datum": 38.9}}},
 {"data": {"values": [{}]}, "mark": {"type": "text", "text": "2", "fontSize": 15, "align": "left", "baseline": "alphabetic"}, "encoding": {"x": {"datum": 72.1}, "y": {"datum": 42.9}}},
 {"data": {"values": [{}]}, "mark": {"type": "text", "text": "(train) = 98.1%", "fontSize": 23, "align": "left", "baseline": "alphabetic"}, "encoding": {"x": {"datum": 77.8}, "y": {"datum": 38.9}}},
 {"data": {"values": [{}]}, "mark": {"type": "text", "text": "R", "fontStyle": "italic", "fontSize": 23, "align": "right", "baseline": "alphabetic"}, "encoding": {"x": {"datum": 73.5}, "y": {"datum": 24.8}}},
 {"data": {"values": [{}]}, "mark": {"type": "text", "text": "2", "fontSize": 15, "align": "left", "baseline": "alphabetic"}, "encoding": {"x": {"datum": 73.8}, "y": {"datum": 28.8}}},
 {"data": {"values": [{}]}, "mark": {"type": "text", "text": "(test) = 97.4%", "fontSize": 23, "align": "left", "baseline": "alphabetic"}, "encoding": {"x": {"datum": 79.5}, "y": {"datum": 24.8}}},
 {"data": {"values": [{}]}, "mark": {"type": "text", "text": "M", "fontStyle": "italic", "fontSize": 28, "align": "left", "baseline": "alphabetic"}, "encoding": {"x": {"datum": 42.6}, "y": {"datum": -29.7}}},
 {"data": {"values": [{}]}, "mark": {"type": "text", "text": "exp", "fontStyle": "italic", "fontSize": 19.6, "align": "left", "baseline": "alphabetic"}, "encoding": {"x": {"datum": 50.8}, "y": {"datum": -31.3}}},
 {"data": {"values": [{}]}, "mark": {"type": "text", "text": "(kN.m)", "fontSize": 28, "align": "left", "baseline": "alphabetic"}, "encoding": {"x": {"datum": 66.0}, "y": {"datum": -29.7}}},
 {"data": {"values": [{}]}, "mark": {"type": "text", "text": "M", "fontStyle": "italic", "fontSize": 28, "align": "left", "baseline": "alphabetic", "angle": 270}, "encoding": {"x": {"datum": -25.5}, "y": {"datum": 35.4}}},
 {"data": {"values": [{}]}, "mark": {"type": "text", "text": "pred", "fontStyle": "italic", "fontSize": 19.6, "align": "left", "baseline": "alphabetic", "angle": 270}, "encoding": {"x": {"datum": -24.1}, "y": {"datum": 45.05}}},
 {"data": {"values": [{}]}, "mark": {"type": "text", "text": "(kN.m)", "fontSize": 28, "align": "left", "baseline": "alphabetic", "angle": 270}, "encoding": {"x": {"datum": -25.5}, "y": {"datum": 66.6}}}
]}
]
}
